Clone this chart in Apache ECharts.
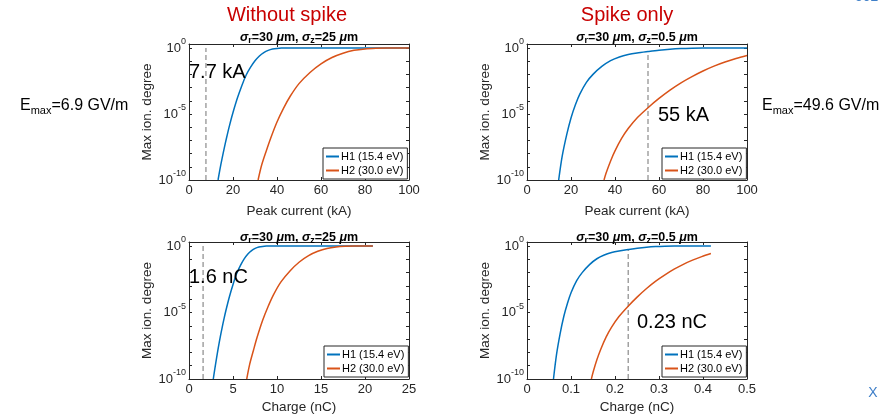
<!DOCTYPE html>
<html>
<head>
<meta charset="utf-8">
<script src="https://cdn.jsdelivr.net/npm/echarts@6/dist/echarts.min.js"></script>
<style>
html, body { margin: 0; padding: 0; background: #fff; }
#chart { width: 892px; height: 419px; }
</style>
</head>
<body>
<div id="chart"></div>
<script>
var FONT = '"Liberation Sans", Arial, Helvetica, sans-serif';
var BLUE = '#0072BD';
var ORANGE = '#D95319';
var INK = '#262626';

var seriesNames = ['H1 (15.4 eV)', 'H2 (30.0 eV)'];

// tick labels
var currentTicks = [0, 20, 40, 60, 80, 100];
var chargeTicksWide = [0, 5, 10, 15, 20, 25];
var chargeTicksSpike = [0, 0.1, 0.2, 0.3, 0.4, 0.5];
var labelledDecades = [-10, -5, 0];
// y range in decades (log10 of ionization degree): 1e-10 .. 2
var yMinDecade = -10, yMaxDecade = Math.log10(2);

// without spike (sigma_z = 25 um)
var noSpikeCurrentH1 = [13.2, 14, 15, 16, 17, 18, 19, 20, 22, 24, 26, 28, 30, 32, 34, 36, 38, 40, 42, 45, 100];
var noSpikeChargeH1 = [2.76, 2.93, 3.14, 3.34, 3.55, 3.76, 3.97, 4.18, 4.6, 5.02, 5.43, 5.85, 6.27, 6.69, 7.11, 7.52, 7.94, 8.36, 8.78, 9.4, 20.9];
var noSpikeH1 = [1e-10, 5.6e-10, 4.0e-9, 2.5e-8, 1.4e-7, 7.1e-7, 3.2e-6, 1.3e-5, 1.6e-4, 1.4e-3, 8.9e-3, 0.035, 0.107, 0.25, 0.45, 0.66, 0.83, 0.93, 0.98, 1, 1];

var noSpikeCurrentH2 = [31.4, 33, 35, 37, 40, 43, 46, 50, 55, 60, 65, 70, 75, 80, 85, 90, 100];
var noSpikeChargeH2 = [6.56, 6.9, 7.32, 7.73, 8.36, 8.99, 9.61, 10.45, 11.5, 12.54, 13.59, 14.63, 15.68, 16.72, 17.77, 18.81, 20.9];
var noSpikeH2 = [1e-10, 1.3e-9, 1.4e-8, 1.3e-7, 2.5e-6, 2.8e-5, 2.2e-4, 2.0e-3, 0.014, 0.063, 0.19, 0.40, 0.66, 0.85, 0.95, 1, 1];

// spike only (sigma_z = 0.5 um)
var spikeCurrentH1 = [14.4, 16, 18, 20, 22, 24, 27, 30, 34, 38, 42, 46, 50, 55, 60, 65, 70, 75, 80, 100];
var spikeChargeH1 = [0.0602, 0.0669, 0.0752, 0.0836, 0.092, 0.1003, 0.1129, 0.1254, 0.1421, 0.1588, 0.1756, 0.1923, 0.209, 0.2299, 0.2508, 0.2717, 0.2926, 0.3135, 0.3344, 0.418];
var spikeH1 = [1e-10, 6.3e-9, 2.5e-7, 5.0e-6, 5.0e-5, 3.2e-4, 2.5e-3, 0.01, 0.04, 0.11, 0.21, 0.32, 0.42, 0.54, 0.68, 0.81, 0.91, 0.97, 1, 1];

var spikeCurrentH2 = [35, 36, 38, 40, 43, 46, 50, 55, 60, 65, 70, 75, 80, 85, 90, 95, 100];
var spikeChargeH2 = [0.1463, 0.1505, 0.1588, 0.1672, 0.1797, 0.1923, 0.209, 0.2299, 0.2508, 0.2717, 0.2926, 0.3135, 0.3344, 0.3553, 0.3762, 0.3971, 0.418];
var spikeH2 = [1e-10, 3.5e-10, 2.75e-9, 1.6e-8, 1.4e-7, 7.9e-7, 5.0e-6, 3.0e-5, 1.5e-4, 6.4e-4, 2.3e-3, 6.8e-3, 0.018, 0.042, 0.086, 0.16, 0.27];

// thresholds (dashed lines): x position, bottom and top of the line
var thresholdX = [7.7, 55, 1.6, 0.23];
var thresholdBottom = 1e-10;
var thresholdTop = [1, 0.54, 1, 0.54];
var thresholdLabels = ['7.7 kA', '55 kA', '1.6 nC', '0.23 nC'];

var panels = [
    { rect: [189, 44, 220, 136], ticks: currentTicks, xName: 'Peak current (kA)', nameGap: 24,
      h1: [noSpikeCurrentH1, noSpikeH1], h2: [noSpikeCurrentH2, noSpikeH2], legend: [323, 148],
      sz: '25', title: [299, 31], note: [189, 72] },
    { rect: [527, 44, 220, 136], ticks: currentTicks, xName: 'Peak current (kA)', nameGap: 24,
      h1: [spikeCurrentH1, spikeH1], h2: [spikeCurrentH2, spikeH2], legend: [662, 148],
      sz: '0.5', title: [637, 31], note: [658, 115] },
    { rect: [189, 242, 220, 137], ticks: chargeTicksWide, xName: 'Charge (nC)', nameGap: 21,
      h1: [noSpikeChargeH1, noSpikeH1], h2: [noSpikeChargeH2, noSpikeH2], legend: [324, 346],
      sz: '25', title: [299, 231], note: [189, 277] },
    { rect: [527, 242, 220, 137], ticks: chargeTicksSpike, xName: 'Charge (nC)', nameGap: 21,
      h1: [spikeChargeH1, spikeH1], h2: [spikeChargeH2, spikeH2], legend: [662, 346],
      sz: '0.5', title: [637, 231], note: [637, 322] }
];

// pairs of [x, log10(y)] for the decade axis
function pairs(xs, ys) {
    return xs.map(function(x, i) { return [x, Math.log10(ys[i])]; });
}

function extend(base, extra) {
    return echarts.util.merge(echarts.util.clone(base), extra, true);
}

function decadeLabel(v) {
    var r = Math.round(v);
    if (Math.abs(v - r) > 0.01 || labelledDecades.indexOf(r) === -1) {
        return '';
    }
    return '{b|10}{s|' + r + '}';
}

var grids = [], xAxes = [], yAxes = [], series = [], legends = [], graphics = [];

panels.forEach(function(p, i) {
    grids.push({ left: p.rect[0], top: p.rect[1], width: p.rect[2], height: p.rect[3] });

    var t = p.ticks;
    var xBase = {
        type: 'value', gridIndex: i,
        min: t[0], max: t[t.length - 1], interval: t[1] - t[0],
        axisLine: { show: true, onZero: false, lineStyle: { color: INK, width: 1 } },
        axisTick: { inside: true, length: 3, lineStyle: { color: INK } },
        splitLine: { show: false }
    };
    xAxes.push(extend(xBase, {
        position: 'bottom',
        axisLabel: { color: INK, fontSize: 13, margin: 4, fontFamily: FONT },
        name: p.xName, nameLocation: 'middle', nameGap: p.nameGap,
        nameTextStyle: { color: INK, fontSize: 13.5, fontFamily: FONT }
    }));
    xAxes.push(extend(xBase, { position: 'top', axisLabel: { show: false } }));

    var yBase = {
        type: 'value', gridIndex: i,
        min: yMinDecade, max: yMaxDecade, interval: 1,
        axisLine: { show: true, onZero: false, lineStyle: { color: INK, width: 1 } },
        axisTick: { inside: true, length: 3, lineStyle: { color: INK } },
        splitLine: { show: false }
    };
    yAxes.push(extend(yBase, {
        position: 'left',
        axisLabel: {
            margin: 3,
            showMaxLabel: false,
            formatter: decadeLabel,
            rich: {
                b: { fontSize: 13, color: INK, fontFamily: FONT, padding: [4, 0, 4, 0], verticalAlign: 'middle' },
                s: { fontSize: 9, color: INK, fontFamily: FONT, verticalAlign: 'top' }
            }
        },
        name: 'Max ion. degree', nameLocation: 'middle', nameGap: 31, nameRotate: 90,
        nameTextStyle: { color: INK, fontSize: 13.5, fontFamily: FONT }
    }));
    yAxes.push(extend(yBase, { position: 'right', axisLabel: { show: false } }));

    var xi = i * 2, yi = i * 2;
    series.push({
        name: seriesNames[0], type: 'line', xAxisIndex: xi, yAxisIndex: yi,
        data: pairs(p.h1[0], p.h1[1]), symbol: 'none', smooth: 0.3,
        lineStyle: { color: BLUE, width: 1.5 }, itemStyle: { color: BLUE }, z: 3
    });
    series.push({
        name: seriesNames[1], type: 'line', xAxisIndex: xi, yAxisIndex: yi,
        data: pairs(p.h2[0], p.h2[1]), symbol: 'none', smooth: 0.3,
        lineStyle: { color: ORANGE, width: 1.5 }, itemStyle: { color: ORANGE }, z: 3
    });
    series.push({
        name: 'threshold', type: 'line', xAxisIndex: xi, yAxisIndex: yi,
        data: pairs([thresholdX[i], thresholdX[i]], [thresholdBottom, thresholdTop[i]]), symbol: 'none',
        lineStyle: { color: '#8a8a8a', width: 1.2, type: [5, 3] }, z: 2, silent: true
    });

    legends.push({
        left: p.legend[0], top: p.legend[1], orient: 'vertical', data: seriesNames,
        icon: 'rect', itemWidth: 13, itemHeight: 2, itemGap: 1, padding: [2, 4, 2, 3],
        borderColor: INK, borderWidth: 1, backgroundColor: '#fff', selectedMode: false,
        textStyle: { fontSize: 11, lineHeight: 13, color: '#000', fontFamily: FONT, padding: [0, 0, 0, -3] },
        z: 10
    });

    graphics.push({
        type: 'text', x: p.title[0], y: p.title[1], z: 100,
        style: {
            text: '{s|σ}{sub|r}{b|=30 }{s|μ}{b|m, }{s|σ}{sub|z}{b|=' + p.sz + ' }{s|μ}{b|m}',
            align: 'center', verticalAlign: 'top',
            rich: {
                b: { fontSize: 12.5, fontWeight: 'bold', fontFamily: FONT, fill: '#000', lineHeight: 14, verticalAlign: 'top' },
                s: { fontSize: 12.5, fontWeight: 'bold', fontStyle: 'italic', fontFamily: FONT, fill: '#000', lineHeight: 14, verticalAlign: 'top' },
                sub: { fontSize: 9, fontWeight: 'bold', fontFamily: FONT, fill: '#000', lineHeight: 10, padding: [8, 0, 0, 0], verticalAlign: 'bottom' }
            }
        }
    });
    graphics.push({
        type: 'text', x: p.note[0], y: p.note[1], z: 100,
        style: { text: thresholdLabels[i], fontSize: 20, fontFamily: FONT, fill: '#000', align: 'left', verticalAlign: 'middle' }
    });
});

var emaxRich = {
    e: { fontSize: 16, fontFamily: FONT, fill: '#000', lineHeight: 18, verticalAlign: 'top' },
    m: { fontSize: 11, fontFamily: FONT, fill: '#000', lineHeight: 12, padding: [6, 0, 0, 0], verticalAlign: 'bottom' }
};

graphics.push(
    { type: 'text', x: 287, y: 15, style: { text: 'Without spike', fontSize: 20, fontFamily: FONT, fill: '#c80000', align: 'center', verticalAlign: 'middle' } },
    { type: 'text', x: 627, y: 15, style: { text: 'Spike only', fontSize: 20, fontFamily: FONT, fill: '#c80000', align: 'center', verticalAlign: 'middle' } },
    { type: 'text', x: 20, y: 107, style: { text: '{e|E}{m|max}{e|=6.9 GV/m}', rich: emaxRich, align: 'left', verticalAlign: 'middle' } },
    { type: 'text', x: 762, y: 107, style: { text: '{e|E}{m|max}{e|=49.6 GV/m}', rich: emaxRich, align: 'left', verticalAlign: 'middle' } },
    { type: 'text', x: 855, y: 4, style: { text: '502', fontSize: 14, fontFamily: FONT, fill: '#3f7fc8', align: 'left', verticalAlign: 'bottom' } },
    { type: 'text', x: 873, y: 393, style: { text: 'X', fontSize: 14, fontFamily: FONT, fill: '#3f7fc8', align: 'center', verticalAlign: 'middle' } }
);

var myChart = echarts.init(document.getElementById('chart'));
myChart.setOption({
    animation: false,
    backgroundColor: '#fff',
    textStyle: { fontFamily: FONT },
    grid: grids,
    xAxis: xAxes,
    yAxis: yAxes,
    legend: legends,
    series: series,
    graphic: graphics
});
</script>
</body>
</html>
